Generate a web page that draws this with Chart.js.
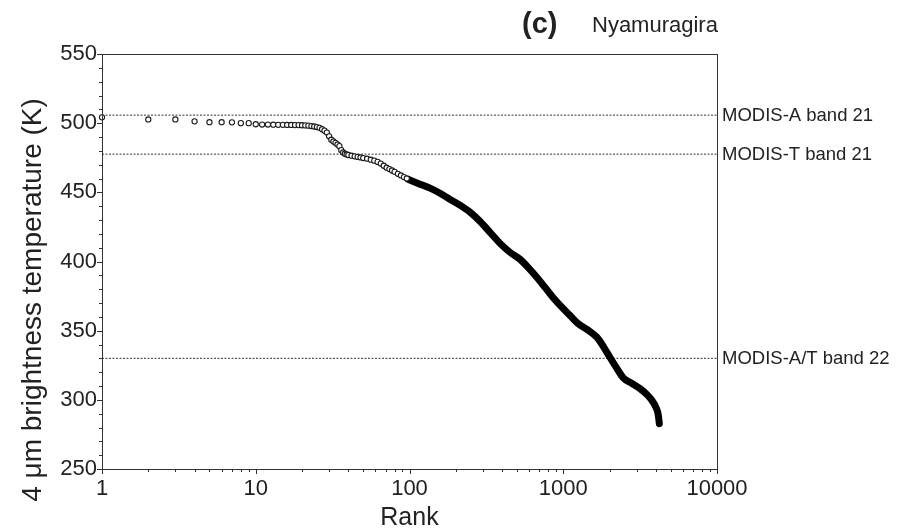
<!DOCTYPE html>
<html>
<head>
<meta charset="utf-8">
<script src="https://cdn.jsdelivr.net/npm/chart.js@4.4.1/dist/chart.umd.min.js"></script>
<style>
  html, body { margin: 0; padding: 0; background: #fff; }
  #wrap { width: 904px; height: 529px; }
</style>
</head>
<body>
<div id="wrap"><canvas id="c" width="904" height="529"></canvas></div>
<script>
// ---- data ----
// sparse, individually visible ranks (open circles)
const sparseRanks = [1,2,3,4,5,6,7,8,9,10,11,12,13,14,15,16,17,18,19,20,
  21,22,23,24,25,26,27,28,29,30,31,32,33,34,35,36,37,38,39,40,
  42,44,46,48,50,53,56,59,62,65,68,71,74,77,80,84,88,92,96];
const sparseTemps = [504.2,502.7,502.7,501.3,500.7,500.7,500.6,500.0,500.0,499.2,
  499.0,499.0,498.9,498.8,498.8,498.7,498.7,498.6,498.6,498.5,
  498.4,498.2,497.9,497.6,497.2,496.6,495.6,494.6,493.2,490.5,
  488.0,486.8,485.8,484.6,483.4,480.5,478.8,477.9,477.4,477.0,
  476.5,476.0,475.6,475.2,474.8,474.3,473.6,472.9,472.0,470.8,
  469.2,467.8,466.8,465.8,464.8,463.4,462.2,461.0,460.0];
// dense part of the curve (ranks > 100), points overlap into a solid band
const denseRanks = [98,117,136,158,183,213,248,287,334,388,451,523,590,675,761,858,
  982,1107,1247,1427,1658,1841,2015,2237,2447,2801,3157,3505,3778,4012,4133,4195,4215];
const denseTemps = [459.4,455.9,453.0,449.3,445.0,440.7,435.6,429.1,421.1,413.1,406.6,401.6,
  395.8,388.5,381.3,374.0,366.8,361.0,355.2,350.9,345.1,337.8,330.6,322.6,316.1,311.8,
  308.1,303.8,299.5,294.4,290.1,285.0,282.8];
// saturation temperature reference lines
const refNames = ['MODIS-A band 21', 'MODIS-T band 21', 'MODIS-A/T band 22'];
const refTemps = [505.8, 477.6, 330.0];
// axes
const xTickValues = [1, 10, 100, 1000, 10000];
const xTickLabels = ['1', '10', '100', '1000', '10000'];
const yTickValues = [250, 300, 350, 400, 450, 500, 550];
const yTickLabels = ['250', '300', '350', '400', '450', '500', '550'];
const xMin = 1, xMax = 10000, yMin = 250, yMax = 550;
const titleLetter = '(c)';
const titleName = 'Nyamuragira';
const xTitle = 'Rank';
const yTitle = '4 \u03bcm brightness temperature (K)';

const FONT = "'Liberation Sans', Arial, Helvetica, sans-serif";
const INK = '#222';

const datasets = [
  {
    label: 'sparse',
    data: sparseRanks.map((r, i) => ({x: r, y: sparseTemps[i]})),
    showLine: false,
    clip: 6,
    pointRadius: 2.6,
    pointBorderWidth: 1.1,
    pointBorderColor: '#1a1a1a',
    pointBackgroundColor: '#ffffff'
  },
  {
    label: 'dense',
    data: denseRanks.map((r, i) => ({x: r, y: denseTemps[i]})),
    showLine: true,
    borderColor: '#000',
    borderWidth: 7,
    borderCapStyle: 'round',
    borderJoinStyle: 'round',
    pointRadius: 0,
    cubicInterpolationMode: 'monotone'
  }
];
refTemps.forEach((t, i) => {
  datasets.push({
    label: refNames[i],
    data: [{x: xMin, y: t}, {x: xMax, y: t}],
    showLine: true,
    borderColor: '#333',
    borderWidth: 1,
    borderDash: [2, 1.5],
    pointRadius: 0
  });
});

const decorPlugin = {
  id: 'decor',
  afterDraw(chart) {
    const ctx = chart.ctx;
    const a = chart.chartArea;
    const xs = chart.scales.x, ys = chart.scales.y;
    ctx.save();
    // frame
    ctx.strokeStyle = '#333';
    ctx.lineWidth = 1;
    ctx.strokeRect(Math.round(a.left) + 0.5, Math.round(a.top) + 0.5,
      Math.round(a.right - a.left), Math.round(a.bottom - a.top));
    // x ticks (major + minor)
    ctx.beginPath();
    for (let d = 0; d < 4; d++) {
      const base = xTickValues[d];
      for (let m = 1; m <= 9; m++) {
        const px = Math.round(xs.getPixelForValue(base * m)) + 0.5;
        const len = m === 1 ? 5 : 3;
        ctx.moveTo(px, a.bottom); ctx.lineTo(px, a.bottom + len);
      }
    }
    const pxEnd = Math.round(xs.getPixelForValue(xMax)) + 0.5;
    ctx.moveTo(pxEnd, a.bottom); ctx.lineTo(pxEnd, a.bottom + 5);
    // y ticks (major every 50, minor every 10)
    for (let v = yMin; v <= yMax; v += 10) {
      const py = Math.round(ys.getPixelForValue(v)) + 0.5;
      const len = (v % 50 === 0) ? 5 : 3;
      ctx.moveTo(a.left, py); ctx.lineTo(a.left - len, py);
    }
    ctx.stroke();
    // reference line labels
    ctx.fillStyle = INK;
    ctx.font = '18.5px ' + FONT;
    ctx.textAlign = 'left';
    ctx.textBaseline = 'middle';
    refTemps.forEach((t, i) => {
      ctx.fillText(refNames[i], a.right + 5, ys.getPixelForValue(t) + 1);
    });
    // panel title
    ctx.textBaseline = 'alphabetic';
    ctx.font = 'bold 29px ' + FONT;
    ctx.fillText(titleLetter, 522, 33);
    ctx.font = '22px ' + FONT;
    ctx.fillText(titleName, 592, 32);
    // axis titles
    ctx.font = '25px ' + FONT;
    ctx.textAlign = 'center';
    ctx.fillText(xTitle, (a.left + a.right) / 2, 525);
    ctx.save();
    ctx.translate(41, 300);
    ctx.rotate(-Math.PI / 2);
    ctx.font = '28px ' + FONT;
    ctx.textBaseline = 'alphabetic';
    ctx.fillText(yTitle, 0, 0);
    ctx.restore();
    ctx.restore();
  }
};

new Chart(document.getElementById('c'), {
  type: 'scatter',
  data: { datasets },
  options: {
    responsive: false,
    devicePixelRatio: 1,
    animation: false,
    layout: { padding: { left: 0, top: 54, right: 187, bottom: 0 } },
    plugins: { legend: { display: false }, tooltip: { enabled: false }, title: { display: false } },
    scales: {
      x: {
        type: 'logarithmic',
        min: xMin, max: xMax,
        position: 'bottom',
        grid: { display: false, drawTicks: false },
        border: { display: true, color: '#333', width: 1 },
        afterBuildTicks(scale) { scale.ticks = xTickValues.map(v => ({value: v})); },
        afterFit(scale) { scale.height = 60; },
        ticks: {
          autoSkip: false, maxRotation: 0, padding: 7,
          color: INK,
          font: { family: FONT, size: 22 },
          callback: (v) => { const i = xTickValues.indexOf(v); return i >= 0 ? xTickLabels[i] : ''; }
        }
      },
      y: {
        type: 'linear',
        min: yMin, max: yMax,
        grid: { display: false, drawTicks: false },
        border: { display: true, color: '#333', width: 1 },
        afterBuildTicks(scale) { scale.ticks = yTickValues.map(v => ({value: v})); },
        afterFit(scale) { scale.width = 102; },
        ticks: {
          padding: 5,
          color: INK,
          font: { family: FONT, size: 22 },
          callback: (v) => { const i = yTickValues.indexOf(v); return i >= 0 ? yTickLabels[i] : ''; }
        }
      }
    }
  },
  plugins: [decorPlugin]
});
</script>
</body>
</html>
